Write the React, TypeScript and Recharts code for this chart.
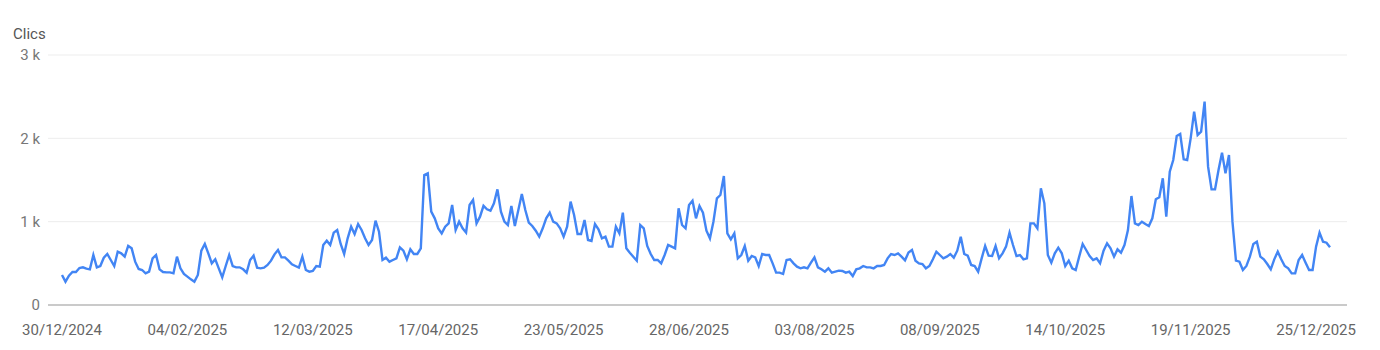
import { CartesianGrid, Line, LineChart, XAxis, YAxis } from "recharts";

// daily clicks, 30/12/2024 -> 29/12/2025
const clicks = [
  360, 280, 352, 396, 396, 444, 452, 436, 428, 600,
  452, 468, 568, 612, 540, 468, 640, 620, 580, 708,
  680, 520, 432, 420, 380, 400, 560, 600, 428, 396,
  392, 392, 380, 580, 440, 372, 340, 308, 280, 360,
  652, 732, 620, 500, 548, 440, 332, 468, 600, 468,
  452, 452, 428, 388, 540, 592, 448, 440, 448, 480,
  532, 608, 660, 572, 572, 532, 488, 468, 448, 580,
  420, 400, 408, 468, 460, 720, 772, 720, 868, 900,
  732, 612, 800, 940, 852, 972, 900, 800, 720, 780,
  1012, 880, 540, 568, 520, 540, 560, 692, 652, 548,
  668, 612, 612, 680, 1560, 1580, 1120, 1040, 920, 860,
  940, 980, 1200, 900, 1000, 920, 868, 1200, 1260, 980,
  1060, 1190, 1148, 1132, 1220, 1388, 1120, 1000, 960, 1188,
  948, 1140, 1332, 1140, 988, 948, 892, 820, 920, 1040,
  1108, 1000, 980, 920, 820, 940, 1240, 1080, 852, 852,
  1020, 780, 768, 972, 908, 800, 820, 700, 700, 940,
  860, 1108, 680, 628, 580, 532, 960, 920, 708, 612,
  540, 540, 500, 600, 720, 700, 680, 1160, 960, 920,
  1200, 1252, 1040, 1188, 1108, 892, 800, 1000, 1280, 1320,
  1548, 860, 788, 860, 560, 600, 708, 532, 588, 572,
  468, 612, 600, 600, 500, 388, 388, 372, 540, 548,
  500, 460, 440, 452, 440, 508, 572, 452, 428, 400,
  440, 388, 400, 412, 408, 388, 400, 348, 428, 440,
  468, 452, 452, 440, 468, 468, 480, 560, 612, 600,
  620, 580, 536, 630, 660, 532, 500, 492, 440, 468,
  548, 640, 600, 560, 580, 612, 568, 652, 820, 612,
  592, 480, 468, 400, 560, 708, 592, 588, 708, 560,
  620, 700, 868, 720, 588, 600, 548, 560, 980, 980,
  920, 1400, 1220, 600, 508, 620, 688, 620, 468, 532,
  440, 420, 580, 732, 660, 588, 540, 560, 500, 652,
  740, 680, 580, 668, 628, 720, 900, 1308, 980, 960,
  1000, 972, 948, 1040, 1268, 1292, 1520, 1060, 1600, 1740,
  2028, 2052, 1748, 1740, 2000, 2320, 2040, 2080, 2440, 1660,
  1388, 1388, 1620, 1828, 1580, 1800, 1000, 532, 520, 420,
  468, 580, 732, 760, 580, 548, 492, 428, 548, 640,
  548, 468, 440, 380, 380, 540, 600, 508, 420, 420,
  700, 868, 760, 748, 692,
];

const tickLabels = [
  "30/12/2024", "04/02/2025", "12/03/2025", "17/04/2025", "23/05/2025", "28/06/2025",
  "03/08/2025", "08/09/2025", "14/10/2025", "19/11/2025", "25/12/2025",
];
const tickStep = 36;
const yTicks = [0, 1000, 2000, 3000];

const data = clicks.map((v, i) => ({ day: i, clicks: v }));
const xTicks = tickLabels.map((_, i) => i * tickStep);

export default function App() {
  return (
    <div style={{ position: "relative", width: 1380, height: 350, fontFamily: "Roboto, sans-serif" }}>
      <style>{"body{margin:0}"}</style>
      <div style={{ position: "absolute", left: 13, top: 25, fontSize: 15, lineHeight: "18px", color: "#555" }}>Clics</div>
      <LineChart width={1380} height={350} data={data} margin={{ top: 55, right: 33, left: 0, bottom: 15 }}>
        <CartesianGrid vertical={false} stroke="#ededed" />
        <XAxis
          dataKey="day"
          type="number"
          domain={[0, clicks.length - 1]}
          ticks={xTicks}
          interval={0}
          tickFormatter={(d: number) => tickLabels[d / tickStep]}
          padding={{ left: 14, right: 17 }}
          tickLine={false}
          axisLine={{ stroke: "#9e9e9e" }}
          tickMargin={13}
          tick={{ fill: "#666", fontSize: 15 }}
        />
        <YAxis
          width={48}
          domain={[0, 3000]}
          ticks={yTicks}
          tickFormatter={(v: number) => (v === 0 ? "0" : `${v / 1000} k`)}
          tickLine={false}
          axisLine={false}
          tick={{ fill: "#777", fontSize: 15 }}
        />
        <Line type="linear" dataKey="clicks" stroke="#4285f4" strokeWidth={2.4} dot={false} isAnimationActive={false} />
      </LineChart>
    </div>
  );
}
